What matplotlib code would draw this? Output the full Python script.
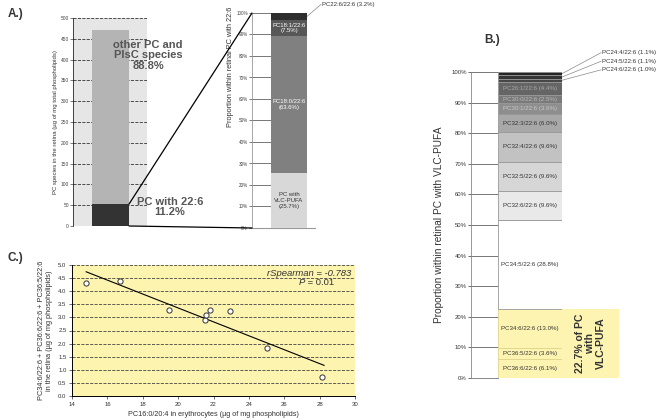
import numpy as np
import matplotlib
matplotlib.use("Agg")
from matplotlib import pyplot as plt
from matplotlib.patches import ConnectionPatch, Rectangle

plt.rcParams['font.family'] = ['Liberation Sans', 'DejaVu Sans']

# ---- data ----
# panel A left: PC species in retina
retina_total = 470.0
a_shares = [11.2, 88.8]           # PC with 22:6, other PC and PlsC species
a_colors = ['#333333', '#b4b4b4']

# panel A right: composition of PC with 22:6
a2_labels = ['PC with\nVLC-PUFA\n(25.7%)', 'PC18:0/22:6\n(63.6%)', 'PC18:1/22:6\n(7.5%)', 'PC22:6/22:6 (3.2%)']
a2_values = [25.7, 63.6, 7.5, 3.2]
a2_colors = ['#d8d8d8', '#808080', '#575757', '#2e2e2e']
a2_text = ['#333333', 'white', 'white', None]

# panel B: composition of PC with VLC-PUFA (bottom to top)
b_labels = ['PC36:6/22:6 (6.1%)', 'PC36:5/22:6 (3.6%)', 'PC34:6/22:6 (13.0%)', 'PC34:5/22:6 (28.8%)',
            'PC32:6/22:6 (9.6%)', 'PC32:5/22:6 (9.6%)', 'PC32:4/22:6 (9.6%)', 'PC32:3/22:6 (6.0%)',
            'PC30:1/22:6 (3.6%)', 'PC30:0/22:6 (2.5%)', 'PC26:1/22:6 (4.4%)',
            'PC24:6/22:6 (1.0%)', 'PC24:5/22:6 (1.1%)', 'PC24:4/22:6 (1.1%)']
b_values = [6.1, 3.6, 13.0, 28.8, 9.6, 9.6, 9.6, 6.0, 3.6, 2.5, 4.4, 1.0, 1.1, 1.1]
b_colors = ['#fdf4b2', '#fdf4b2', '#fdf4b2', '#ffffff', '#e9e9e9', '#d6d6d6', '#c2c2c2', '#a8a8a8',
            '#8e8e8e', '#7a7a7a', '#656565', '#474747', '#363636', '#262626']
b_text = ['#333333'] * 8 + ['#c8c8c8', '#b8b8b8', '#a8a8a8', None, None, None]

# panel C: scatter
c_x = [14.8, 16.7, 19.5, 21.5, 21.55, 21.8, 22.95, 25.05, 28.15]
c_y = [4.32, 4.38, 3.27, 2.9, 3.09, 3.28, 3.24, 1.84, 0.74]
r_spearman = -0.783
p_value = 0.01

W, H = 661, 420
fig = plt.figure(figsize=(W / 100, H / 100), dpi=100)


def px_axes(left, top, right, bottom):
    return fig.add_axes([left / W, 1 - bottom / H, (right - left) / W, (bottom - top) / H])


# ---------------- panel A left ----------------
ax1 = px_axes(73, 18, 147, 226)
ax1.set_facecolor('#e6e6e6')
heights = [retina_total * s / 100 for s in a_shares]
bottom = 0
for h, c in zip(heights, a_colors):
    ax1.bar(37.5, h, width=37, bottom=bottom, color=c, zorder=3)
    bottom += h
ax1.set_xlim(0, 74)
ax1.set_ylim(0, 500)
ax1.set_yticks(np.arange(0, 501, 50))
ax1.tick_params(axis='y', labelsize=3.5, length=2, width=0.5, pad=1, colors='#444444')
ax1.set_xticks([])
ax1.yaxis.grid(True, ls='--', color='#333333', lw=0.6)
ax1.set_axisbelow(True)
for s in ['top', 'right', 'bottom']:
    ax1.spines[s].set_visible(False)
ax1.spines['left'].set_linewidth(0.5)
ax1.set_ylabel('PC species in the retina (µg of mg total phospholipids)', fontsize=4.3, labelpad=2, color='#333333')
ax1.text(75, 410, f'other PC and\nPlsC species\n{a_shares[1]}%', ha='center', va='center', fontsize=8,
         fontweight='bold', color='#555555', linespacing=1.05, zorder=5, clip_on=False)
ax1.text(97, 45, f'PC with 22:6\n{a_shares[0]}%', ha='center', va='center', fontsize=8,
         fontweight='bold', color='#555555', linespacing=1.05, zorder=5, clip_on=False)

# ---------------- panel A right ----------------
ax2 = px_axes(252, 13, 307, 228)
bottom = 0
for v, c in zip(a2_values, a2_colors):
    ax2.bar(37, v, width=36, bottom=bottom, color=c, zorder=3)
    bottom += v
ax2.set_xlim(0, 55)
ax2.set_ylim(0, 100)
ax2.set_yticks(np.arange(0, 101, 10))
ax2.set_yticklabels([f'{t}%' for t in range(0, 101, 10)])
ax2.tick_params(axis='y', labelsize=3.3, length=2, width=0.5, pad=1, colors='#444444')
ax2.set_xticks([])
ax2.yaxis.grid(True, color='#777777', lw=0.7)
ax2.set_axisbelow(True)
for s in ['top', 'right', 'bottom']:
    ax2.spines[s].set_visible(False)
ax2.spines['left'].set_color('#999999')
ax2.spines['left'].set_linewidth(0.6)
ax2.plot([0, 63], [0, 0], color='#999999', lw=0.8, clip_on=False)
ax2.text(-0.4, 1.03, 'Proportion within retinal PC with 22:6', transform=ax2.transAxes, rotation=90,
         ha='center', va='top', fontsize=5.3, color='#333333')
bottom = 0
for lab, v, tc in zip(a2_labels, a2_values, a2_text):
    if tc is not None:
        ax2.text(37, bottom + v / 2, lab, ha='center', va='center', fontsize=4.3, color=tc,
                 linespacing=1.2, zorder=5)
    else:
        ax2.plot([55, 69], [bottom + v / 2, 104], color='#888888', lw=0.5, clip_on=False)
        ax2.text(70, 104, lab, ha='left', va='center', fontsize=4.3, color='#333333', clip_on=False)
    bottom += v

# connector lines between A panels
for (ya, yb) in [(heights[0], 100), (0, 0)]:
    con = ConnectionPatch(xyA=(56, ya), coordsA=ax1.transData, xyB=(0, yb), coordsB=ax2.transData,
                          color='black', lw=0.9)
    fig.add_artist(con)

# ---------------- panel B ----------------
ax3 = px_axes(471, 72, 562, 378)
bottom = 0
for v, c in zip(b_values, b_colors):
    ec = '#e0d48a' if c == '#fdf4b2' else '#999999'
    ax3.bar(59, v, width=64, bottom=bottom, color=c, edgecolor=ec, lw=0.6, zorder=3)
    bottom += v
ax3.set_xlim(0, 91)
ax3.set_ylim(0, 100)
ax3.set_yticks(np.arange(0, 101, 10))
ax3.set_yticklabels([f'{t}%' for t in range(0, 101, 10)])
ax3.tick_params(axis='y', labelsize=4.3, length=2, width=0.5, pad=1, colors='#333333')
ax3.set_xticks([])
ax3.yaxis.grid(True, color='#777777', lw=0.7)
ax3.set_axisbelow(True)
for s in ['top', 'right', 'bottom']:
    ax3.spines[s].set_visible(False)
ax3.spines['left'].set_color('#888888')
ax3.spines['left'].set_linewidth(0.6)
ax3.plot([0, 27], [0, 0], color='#888888', lw=0.7, clip_on=False)
ax3.set_ylabel('Proportion within retinal PC with VLC-PUFA', fontsize=7.3, labelpad=5, color='#333333')
bottom = 0
out_y = {11: 100.7, 12: 103.5, 13: 106.3}
for i, (lab, v, tc) in enumerate(zip(b_labels, b_values, b_text)):
    if tc is not None:
        ax3.text(59, bottom + v / 2, lab, ha='center', va='center', fontsize=4.4, color=tc, zorder=5)
    else:
        ax3.plot([91, 130], [bottom + v / 2, out_y[i]], color='#888888', lw=0.5, clip_on=False)
        ax3.text(131, out_y[i], lab, ha='left', va='center', fontsize=4.4, color='#333333', clip_on=False)
    bottom += v
vlc = sum(b_values[:3])
ax3.add_patch(Rectangle((91, 0), 57, vlc, facecolor='#fdf4b2', edgecolor='none', clip_on=False, zorder=2))
ax3.text(119.5, vlc / 2, f'{vlc:.1f}% of PC\nwith\nVLC-PUFA', rotation=90, ha='center', va='center',
         fontsize=7.5, fontweight='bold', color='#333333', linespacing=1.1, clip_on=False)

# ---------------- panel C ----------------
ax4 = px_axes(72, 265, 355, 396)
ax4.set_facecolor('#fdf4b0')
ax4.scatter(c_x, c_y, s=14, facecolor='white', edgecolor='#333333', lw=0.7, zorder=4)
k, b = np.polyfit(c_x, c_y, 1)
xx = np.array([min(c_x), max(c_x) + 0.1])
ax4.plot(xx, k * xx + b, color='black', lw=0.8, zorder=3)
ax4.set_xlim(14, 30)
ax4.set_ylim(0, 5)
ax4.set_xticks(np.arange(14, 31, 2))
ax4.set_yticks(np.arange(0, 5.01, 0.5))
ax4.set_yticklabels([f'{t:.1f}' for t in np.arange(0, 5.01, 0.5)])
ax4.tick_params(labelsize=4.3, length=2, width=0.5, pad=2, colors='#333333')
ax4.yaxis.grid(True, ls='--', color='#444444', lw=0.6)
ax4.set_axisbelow(True)
for s in ['top', 'right']:
    ax4.spines[s].set_visible(False)
for s in ['left', 'bottom']:
    ax4.spines[s].set_linewidth(0.7)
ax4.set_xlabel('PC16:0/20:4 in erythrocytes (µg of mg phospholipids)', fontsize=5.2, labelpad=3, color='#333333')
ax4.set_ylabel('PC34:6/22:6 + PC36:6/22:6 + PC36:5/22:6\nin the retina (µg of mg phospholipids)',
               fontsize=5.3, labelpad=4, color='#333333', linespacing=1.1)
ax4.text(29.8, 4.69, f'rSpearman = {r_spearman}', ha='right', va='center', fontsize=6.8,
         style='italic', color='#333333')
ax4.text(27.2, 4.32, 'P', ha='right', va='center', fontsize=6.8, style='italic', color='#333333')
ax4.text(27.2, 4.32, f' = {p_value}', ha='left', va='center', fontsize=6.8, color='#333333')

# panel letters
fig.text(8 / W, 1 - 14 / H, 'A.)', fontsize=8.5, fontweight='bold', color='#333333', va='center')
fig.text(484 / W, 1 - 40 / H, 'B.)', fontsize=8.5, fontweight='bold', color='#333333', va='center')
fig.text(8 / W, 1 - 258 / H, 'C.)', fontsize=8.5, fontweight='bold', color='#333333', va='center')

fig.savefig('out.png', dpi=100)
